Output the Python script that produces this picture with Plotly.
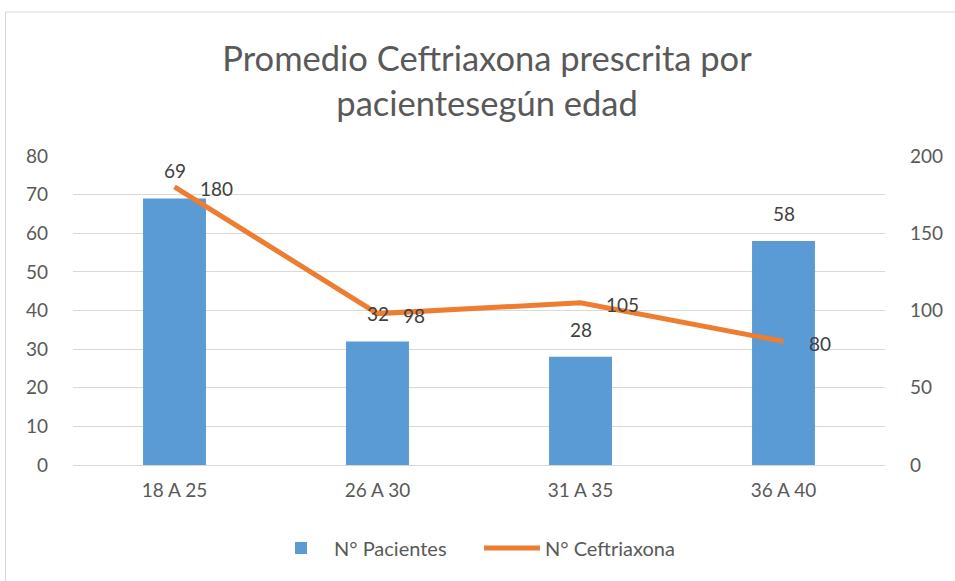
import plotly.graph_objects as go

categories = ["18 A 25", "26 A 30", "31 A 35", "36 A 40"]
pacientes = [69, 32, 28, 58]
ceftriaxona = [180, 98, 105, 80]
left_ticks = [0, 10, 20, 30, 40, 50, 60, 70, 80]
right_ticks = [0, 50, 100, 150, 200]

FONT = "Lato"
GRAY = "#595959"
LABEL = "#404040"
BLUE = "#5B9BD5"
ORANGE = "#ED7D31"

W, H = 955, 581
ML, MR, MT, MB = 73, 64, 156, 116

fig = go.Figure()
fig.add_trace(go.Bar(x=categories, y=pacientes, name="N° Pacientes",
                     marker=dict(color=BLUE, line=dict(width=0)), yaxis="y"))
fig.add_trace(go.Scatter(x=categories, y=ceftriaxona, name="N° Ceftriaxona",
                         mode="lines", line=dict(color=ORANGE, width=5),
                         yaxis="y2"))

annotations = []
for c, v in zip(categories, pacientes):
    annotations.append(dict(x=c, y=v, xref="x", yref="y", text=str(v),
                            showarrow=False, yanchor="bottom", yshift=14,
                            font=dict(family=FONT, size=19, color=LABEL)))
for c, v in zip(categories, ceftriaxona):
    annotations.append(dict(x=c, y=v, xref="x", yref="y2", text=str(v),
                            showarrow=False, xanchor="left", xshift=23, yshift=-2,
                            font=dict(family=FONT, size=19, color=LABEL)))

pw = W - ML - MR
ph = H - MT - MB
def px_x(p):
    return (p - ML) / pw
def px_y(p):
    return (H - MB - p) / ph

border_path = "M {x0},{y0} L {x0},{y1} L {x1},{y1}".format(
    x0=px_x(5), y0=px_y(H + 5), y1=px_y(12), x1=px_x(W + 20))

fig.update_layout(
    width=W, height=H,
    margin=dict(l=ML, r=MR, t=MT, b=MB),
    paper_bgcolor="white", plot_bgcolor="white",
    font=dict(family=FONT, color=GRAY, size=19),
    title=dict(text="Promedio Ceftriaxona prescrita por<br>pacientesegún edad",
               x=0.51, xanchor="center", y=1 - 71 / H, yanchor="middle",
               font=dict(family=FONT, size=34.5, color=GRAY)),
    bargap=0.69,
    showlegend=True,
    legend=dict(orientation="h", x=0.5, xanchor="center", y=-(548 - (H - MB)) / ph,
                yanchor="middle", font=dict(family=FONT, size=20, color=GRAY),
                itemwidth=56, entrywidth=140, entrywidthmode="pixels"),
    xaxis=dict(showgrid=False, showline=False, ticks="", ticklabelstandoff=12,
               tickfont=dict(size=19, color=GRAY)),
    yaxis=dict(range=[0, 80], tickvals=left_ticks, showgrid=True, gridcolor="#D9D9D9",
               gridwidth=1, zeroline=True, zerolinecolor="#D9D9D9", zerolinewidth=1,
               showline=False, ticks="", ticklabelstandoff=24,
               tickfont=dict(size=19, color=GRAY)),
    yaxis2=dict(range=[0, 200], tickvals=right_ticks, overlaying="y", side="right",
                showgrid=False, zeroline=False, showline=False, ticks="",
                ticklabelstandoff=24, tickfont=dict(size=19, color=GRAY)),
    annotations=annotations,
    shapes=[dict(type="path", xref="paper", yref="paper", path=border_path,
                 line=dict(color="#D9D9D9", width=1), layer="below")],
)

fig.write_html("out.html", config={"displayModeBar": False},
               post_script="document.body.style.margin='0';document.body.style.overflow='hidden';")
